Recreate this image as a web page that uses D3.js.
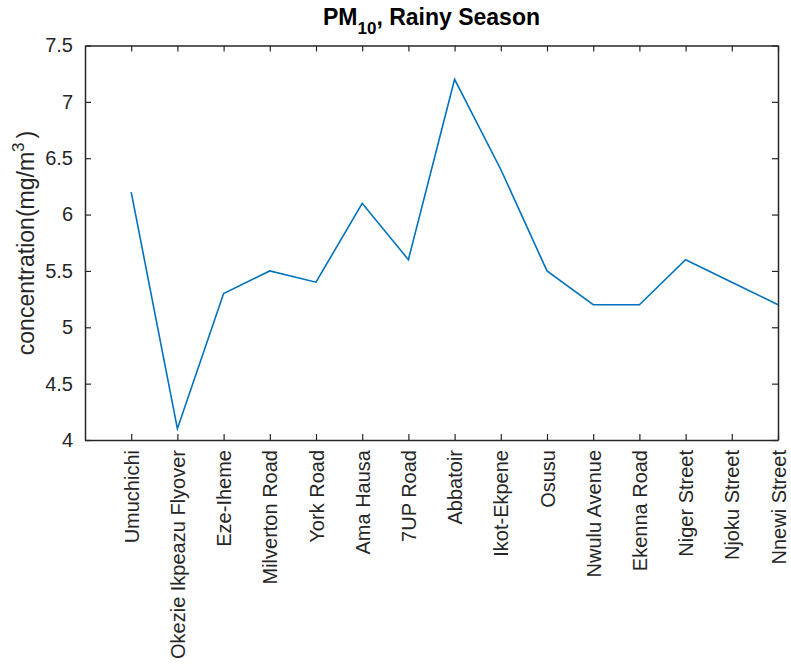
<!DOCTYPE html>
<html lang="en">
<head>
<meta charset="UTF-8">
<title>PM10, Rainy Season</title>
<script src="https://d3js.org/d3.v7.min.js"></script>
<style>
  body { margin: 0; background: #fff; }
  text { font-family: "Liberation Sans", Arial, sans-serif; fill: #262626; }
</style>
</head>
<body>
<svg id="chart" width="791" height="672"></svg>
<script>
  // data
  const sites = ["Umuchichi", "Okezie Ikpeazu Flyover", "Eze-Iheme", "Milverton Road", "York Road",
    "Ama Hausa", "7UP Road", "Abbatoir", "Ikot-Ekpene", "Osusu", "Nwulu Avenue", "Ekenna Road",
    "Niger Street", "Njoku Street", "Nnewi Street"];
  const pm10 = [6.2, 4.1, 5.3, 5.5, 5.4, 6.1, 5.6, 7.2, 6.4, 5.5, 5.2, 5.2, 5.6, 5.4, 5.2];
  const yTicks = [4, 4.5, 5, 5.5, 6, 6.5, 7, 7.5];

  const AXIS_COLOR = "#262626";
  const LINE_COLOR = "#0072BD";
  const plotLeft = 85, plotRight = 778, plotTop = 45.5, plotBottom = 440;
  const TICK = 6;
  const TICK_FONT = 20;
  const LABEL_FONT = 23;

  const svg = d3.select("#chart");

  const x = d3.scaleLinear().domain([0, sites.length]).range([plotLeft, plotRight]);
  const y = d3.scaleLinear().domain([4, 7.5]).range([plotBottom, plotTop]);
  const xIdx = d3.range(1, sites.length + 1);

  // box axes, MATLAB style: ticks pointing inward on all four sides
  const axisStyle = g => {
    g.select(".domain").attr("stroke", AXIS_COLOR).attr("stroke-width", 1.5);
    g.selectAll(".tick line").attr("stroke", AXIS_COLOR).attr("stroke-width", 1.2);
  };

  svg.append("g")
    .attr("transform", `translate(0,${plotBottom})`)
    .call(d3.axisBottom(x).tickValues(xIdx).tickSizeInner(-TICK).tickSizeOuter(0).tickFormat(d => sites[d - 1]))
    .call(axisStyle)
    .call(g => g.selectAll(".tick text")
      .attr("font-size", TICK_FONT)
      .attr("fill", AXIS_COLOR)
      .attr("text-anchor", "end")
      .attr("transform", "rotate(-90)")
      .attr("x", -10)
      .attr("y", 0)
      .attr("dy", "0.35em"));

  svg.append("g")
    .attr("transform", `translate(0,${plotTop})`)
    .call(d3.axisTop(x).tickValues(xIdx).tickSizeInner(-TICK).tickSizeOuter(0).tickFormat(""))
    .call(axisStyle);

  svg.append("g")
    .attr("transform", `translate(${plotLeft},0)`)
    .call(d3.axisLeft(y).tickValues(yTicks).tickSizeInner(-TICK).tickSizeOuter(0).tickFormat(d3.format("")))
    .call(axisStyle)
    .call(g => g.selectAll(".tick text")
      .attr("font-size", TICK_FONT)
      .attr("fill", AXIS_COLOR)
      .attr("x", -12));

  svg.append("g")
    .attr("transform", `translate(${plotRight},0)`)
    .call(d3.axisRight(y).tickValues(yTicks).tickSizeInner(-TICK).tickSizeOuter(0).tickFormat(""))
    .call(axisStyle);

  // the series
  const line = d3.line()
    .x((d, i) => x(i + 1))
    .y(d => y(d));

  svg.append("path")
    .datum(pm10)
    .attr("fill", "none")
    .attr("stroke", LINE_COLOR)
    .attr("stroke-width", 1.6)
    .attr("d", line);

  // title with subscript
  const title = svg.append("text")
    .attr("x", (plotLeft + plotRight) / 2)
    .attr("y", 25)
    .attr("text-anchor", "middle")
    .attr("font-size", LABEL_FONT)
    .attr("font-weight", "bold")
    .style("fill", "#000");
  title.append("tspan").text("PM");
  title.append("tspan").attr("font-size", 17).attr("dy", 9).text("10");
  title.append("tspan").attr("dy", -9).text(", Rainy Season");

  // y label with superscript
  const ylab = svg.append("text")
    .attr("transform", `translate(34,243) rotate(-90)`)
    .attr("text-anchor", "middle")
    .attr("font-size", LABEL_FONT)
    .attr("fill", AXIS_COLOR);
  ylab.append("tspan").text("concentration(mg/m");
  ylab.append("tspan").attr("font-size", 17).attr("dy", -10).text("3");
  ylab.append("tspan").attr("dy", 10).attr("dx", 4).text(")");
</script>
</body>
</html>
